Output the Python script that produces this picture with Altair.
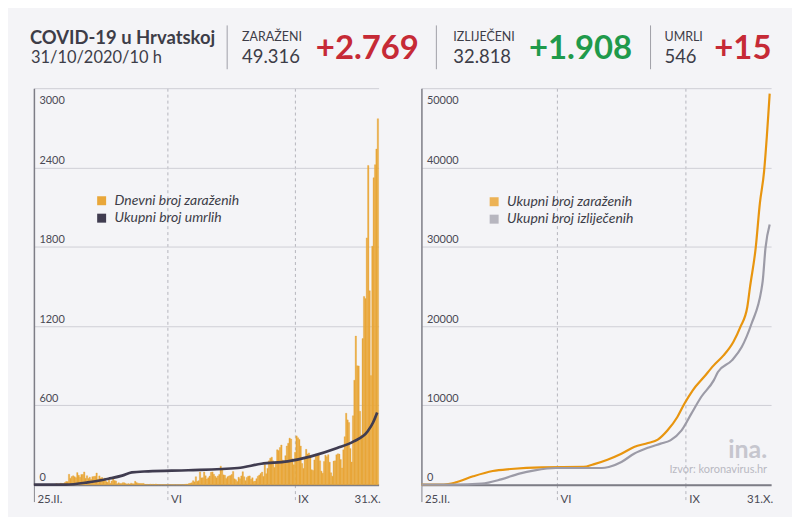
import altair as alt
import pandas as pd

# ---------------- data ----------------
START_DATE = "2020-02-25"
DAILY_CASES = [
    # Feb 25-29
    1, 2, 0, 2, 1,
    # Mar
    1, 0, 0, 1, 1, 1, 1, 1, 2, 1, 5, 8, 5, 6, 11, 8, 8, 16, 24, 23,
    78, 48, 61, 67, 60, 53, 91, 71, 56, 77, 77,
    # Apr
    96, 48, 68, 47, 56, 40, 60, 61, 64, 88, 39, 66, 50, 54, 37, 50, 23, 18, 39, 10,
    27, 42, 31, 28, 7, 14, 9, 8, 15, 14,
    # May
    9, 3, 8, 5, 11, 7, 6, 25, 15, 11, 9, 9, 8, 9, 2, 2, 2, 0, 4, 2,
    3, 1, 5, 1, 0, 1, 0, 1, 0, 0, 1,
    # Jun
    0, 1, 0, 1, 0, 0, 0, 0, 0, 1, 0, 1, 2, 4, 3, 8, 11, 14, 30, 21,
    60, 25, 30, 96, 51, 53, 95, 67, 42, 52,
    # Jul
    65, 93, 96, 79, 64, 52, 66, 77, 140, 116, 74, 71, 47, 60, 66, 69, 77, 100, 44, 37,
    23, 56, 44, 66, 98, 60, 30, 55, 64, 66, 40,
    # Aug
    52, 24, 27, 45, 64, 72, 84, 95, 62, 150, 83, 123, 180, 200, 208, 180, 130, 172, 264, 258,
    281, 300, 186, 168, 219, 292, 313, 352, 345, 196, 150,
    # Sep
    245, 369, 355, 342, 292, 160, 123, 204, 267, 232, 240, 210, 113, 107, 187, 230, 220, 226, 180, 102,
    87, 176, 223, 212, 227, 170, 90, 64, 178, 180,
    # Oct
    226, 233, 231, 190, 126, 264, 363, 540, 490, 470, 273, 171, 521, 790, 1124, 899, 898, 555, 376, 1105,
    1424, 1408, 1867, 2415, 1467, 825, 1804, 2322, 2421, 2539, 2769,
]

DEATH_DATES = ["2020-02-25", "2020-03-19", "2020-04-04", "2020-04-19", "2020-04-29", "2020-05-06",
               "2020-05-18", "2020-06-16", "2020-07-22", "2020-08-08", "2020-08-27", "2020-09-13",
               "2020-10-02", "2020-10-14", "2020-10-24", "2020-10-28", "2020-10-31"]
DEATH_TOTALS = [0, 0, 17, 45, 68, 93, 101, 109, 126, 158, 176, 214, 277, 327, 402, 470, 546]

CONF_DATES = ["2020-02-25", "2020-03-12", "2020-03-20", "2020-04-02", "2020-04-16", "2020-04-29",
              "2020-05-21", "2020-06-20", "2020-06-27", "2020-07-07", "2020-07-17", "2020-07-26",
              "2020-08-05", "2020-08-12", "2020-08-19", "2020-08-26", "2020-08-31", "2020-09-06",
              "2020-09-14", "2020-09-21", "2020-09-28", "2020-10-05", "2020-10-10", "2020-10-15",
              "2020-10-17", "2020-10-21", "2020-10-24", "2020-10-27", "2020-10-29", "2020-10-30",
              "2020-10-31"]
CONF_TOTALS = [0, 20, 250, 1050, 1720, 1975, 2185, 2230, 2560, 3150, 3900, 4750, 5250, 5670, 6850,
               8530, 10200, 11900, 13570, 15040, 16300, 18000, 19870, 22400, 25000, 29850, 35500,
               39500, 44000, 46600, 49316]

REC_DATES = ["2020-02-25", "2020-03-19", "2020-04-08", "2020-04-22", "2020-05-05", "2020-05-16",
             "2020-05-31", "2020-07-03", "2020-07-08", "2020-07-17", "2020-07-26", "2020-08-05",
             "2020-08-14", "2020-08-21", "2020-08-29", "2020-09-05", "2020-09-12", "2020-09-21",
             "2020-09-24", "2020-10-04", "2020-10-11", "2020-10-18", "2020-10-25", "2020-10-26",
             "2020-10-28", "2020-10-31"]
REC_TOTALS = [0, 0, 130, 670, 1390, 1800, 2100, 2100, 2230, 2860, 3900, 4660, 5170, 5590, 6850,
              8950, 11050, 13150, 14200, 15670, 17350, 20290, 24500, 25660, 29850, 32818]

LEFT_SERIES = ["Dnevni broj zaraženih", "Ukupni broj umrlih"]
RIGHT_SERIES = ["Ukupni broj zaraženih", "Ukupni broj izliječenih"]

TICK_DATES = ["2020-02-25", "2020-06-01", "2020-09-01", "2020-10-31"]
TICK_LABELS = ["25.II.", "VI", "IX", "31.X."]
DOMAIN_DATES = ["2020-02-25", "2020-11-01"]
LEFT_Y_TICKS = [0, 600, 1200, 1800, 2400, 3000]
RIGHT_Y_TICKS = [0, 10000, 20000, 30000, 40000, 50000]

TITLE = "COVID-19 u Hrvatskoj"
SUBTITLE = "31/10/2020/10 h"
STAT_LABELS = ["ZARAŽENI", "IZLIJEČENI", "UMRLI"]
STAT_TOTALS = ["49.316", "32.818", "546"]
STAT_DELTAS = ["+2.769", "+1.908", "+15"]
SOURCE = "Izvor: koronavirus.hr"
LOGO = "ina."

# ---------------- style ----------------
FONT = "Lato"
BG = "#f4f4f7"
TEXT = "#3d3d48"
RED = "#c62a36"
GREEN = "#1f9a4b"
BAR_COLOR = "#e9a73a"
DEATH_COLOR = "#403c50"
CONF_COLOR = "#e8950f"
REC_COLOR = "#9c9ba7"
GRID = "#cfcfd6"
DASH = "#b5b5bd"
AXIS = "#7d7d86"
SEP = "#a0a0a8"
LIGHT = "#b9b9c2"


def dt(s):
    return alt.DateTime(year=int(s[:4]), month=int(s[5:7]), date=int(s[8:10]), utc=True)


x_scale = alt.Scale(type="utc", domain=[dt(DOMAIN_DATES[0]), dt(DOMAIN_DATES[1])], padding=0)

first_m = int(TICK_DATES[0][5:7]) - 1
last_m = int(TICK_DATES[-1][5:7]) - 1
first_test = f"utcmonth(datum.value) == {first_m}"
last_test = f"utcmonth(datum.value) == {last_m}"
label_expr = "''"
for d, lab in reversed(list(zip(TICK_DATES, TICK_LABELS))):
    label_expr = f"utcmonth(datum.value) == {int(d[5:7]) - 1} ? '{lab}' : {label_expr}"


def x_axis():
    return alt.Axis(
        values=[dt(d) for d in TICK_DATES], labelExpr=label_expr, title=None,
        grid=True, gridDash=[3, 3], gridWidth=1,
        gridColor={"condition": {"test": f"{first_test} || {last_test}", "value": "transparent"}, "value": DASH},
        ticks=True, tickSize=17, tickWidth=1,
        tickColor={"condition": [{"test": last_test, "value": "transparent"},
                                 {"test": first_test, "value": AXIS}], "value": DASH},
        tickDash={"condition": {"test": first_test, "value": [1, 0]}, "value": [3, 3]},
        domainColor=AXIS, domainWidth=2,
        labelAlign={"condition": {"test": last_test, "value": "right"}, "value": "left"},
        labelFlush=False, labelOffset=3, labelPadding=-8,
        labelFont=FONT, labelFontSize=11.5, labelColor="#4a4a55",
    )


def y_axis(ticks):
    top = max(ticks)
    return alt.Axis(
        values=ticks, title=None, format="d", grid=True, gridColor=GRID, gridWidth=1,
        ticks=False, domainColor=AXIS, domainWidth=1.5,
        labelAlign="left", labelPadding=-5, labelBaseline="alphabetic",
        labelOffset={"condition": {"test": f"datum.value == {top}", "value": 15}, "value": -4},
        labelFont=FONT, labelFontSize=11, labelColor="#4a4a55",
    )


def legend(x, y):
    return alt.Legend(orient="none", legendX=x, legendY=y, title=None, symbolType="square",
                      symbolSize=81, symbolStrokeWidth=0,
                      labelFont=FONT, labelFontSize=14, labelFontStyle="italic", labelColor=TEXT,
                      rowPadding=3.5, labelOffset=6, padding=0)


def text(t, x, y, size, color, weight="normal", align="left", style="normal"):
    return alt.Chart(pd.DataFrame({"t": [t]})).mark_text(
        align=align, baseline="alphabetic", font=FONT, fontSize=size, fontWeight=weight,
        fontStyle=style, color=color,
    ).encode(x=alt.value(x), y=alt.value(y), text="t:N")


def sep(x):
    return alt.Chart(pd.DataFrame({"s": [0]})).mark_rule(color=SEP, strokeWidth=1).encode(
        x=alt.value(x), y=alt.value(-63), y2=alt.value(-19))


# ---------------- left panel ----------------
day_index = pd.date_range(START_DATE, periods=len(DAILY_CASES), freq="D")
daily = pd.DataFrame({
    "date": day_index.strftime("%Y-%m-%d"),
    "end": (day_index + pd.Timedelta(days=1)).strftime("%Y-%m-%d"),
    "value": DAILY_CASES,
    "series": LEFT_SERIES[0],
})
deaths = pd.DataFrame({"date": DEATH_DATES, "value": DEATH_TOTALS, "series": LEFT_SERIES[1]})

left_color = alt.Color("series:N", scale=alt.Scale(domain=LEFT_SERIES, range=[BAR_COLOR, DEATH_COLOR]),
                       legend=legend(61, 106))
left_y = alt.Y("value:Q", scale=alt.Scale(domain=[0, max(LEFT_Y_TICKS)], padding=0),
               axis=y_axis(LEFT_Y_TICKS))

bars = alt.Chart(daily).mark_bar(stroke=BAR_COLOR, strokeWidth=0.35, orient="vertical").encode(
    x=alt.X("date:T", scale=x_scale, axis=x_axis()), x2="end:T",
    y=left_y, y2=alt.datum(0), color=left_color,
)
death_line = alt.Chart(deaths).mark_line(strokeWidth=2.7, interpolate="monotone").encode(
    x=alt.X("date:T", scale=x_scale, axis=x_axis()), y=left_y, color=left_color,
)

header = [
    text(TITLE, -4, -44, 18.5, TEXT, weight="bold"),
    text(SUBTITLE, -3, -25, 16.5, TEXT),
    sep(194), sep(404), sep(619),
]
for lab, tot, dlt, x0, x1, col in zip(STAT_LABELS, STAT_TOTALS, STAT_DELTAS,
                                      [209, 421, 633], [283, 497, 683], [RED, GREEN, RED]):
    header += [
        text(lab, x0, -47, 12.5, TEXT),
        text(tot, x0, -25.5, 18.5, TEXT),
        text(dlt, x1, -29.5, 33, col, weight="bold"),
    ]

left = alt.layer(bars, death_line, *header).properties(width=346, height=398)

# ---------------- right panel ----------------
cum = pd.concat([
    pd.DataFrame({"date": CONF_DATES, "value": CONF_TOTALS, "series": RIGHT_SERIES[0]}),
    pd.DataFrame({"date": REC_DATES, "value": REC_TOTALS, "series": RIGHT_SERIES[1]}),
])
right_x = alt.X("date:T", scale=x_scale, axis=x_axis())
right_y = alt.Y("value:Q", scale=alt.Scale(domain=[0, max(RIGHT_Y_TICKS)], padding=0),
                axis=y_axis(RIGHT_Y_TICKS))
right_color = alt.Color("series:N", scale=alt.Scale(domain=RIGHT_SERIES, range=[CONF_COLOR, REC_COLOR]),
                        legend=legend(66, 107))
# filled (zero-size) squares give the legend its filled square swatches
swatches = alt.Chart(cum).mark_square(size=0, filled=True).encode(x=right_x, y=right_y, color=right_color)
right_lines = alt.Chart(cum).mark_line(strokeWidth=2.2, interpolate="monotone").encode(
    x=right_x, y=right_y, color=right_color,
)
right = alt.layer(
    swatches,
    right_lines,
    text(LOGO, 347, 371, 25, "#c6c6ce", weight="bold", align="right"),
    text(SOURCE, 347, 386.5, 11, LIGHT, align="right"),
).properties(width=351, height=398)

chart = alt.hconcat(left, right, spacing=43, bounds="flush").resolve_scale(
    color="independent").resolve_legend(color="independent").properties(
    padding={"left": 20, "top": 15.5, "right": 18, "bottom": 10}
).configure(background=BG, font=FONT).configure_view(stroke=None)

chart.save("out.html", embed_options={"renderer": "svg", "actions": False})
